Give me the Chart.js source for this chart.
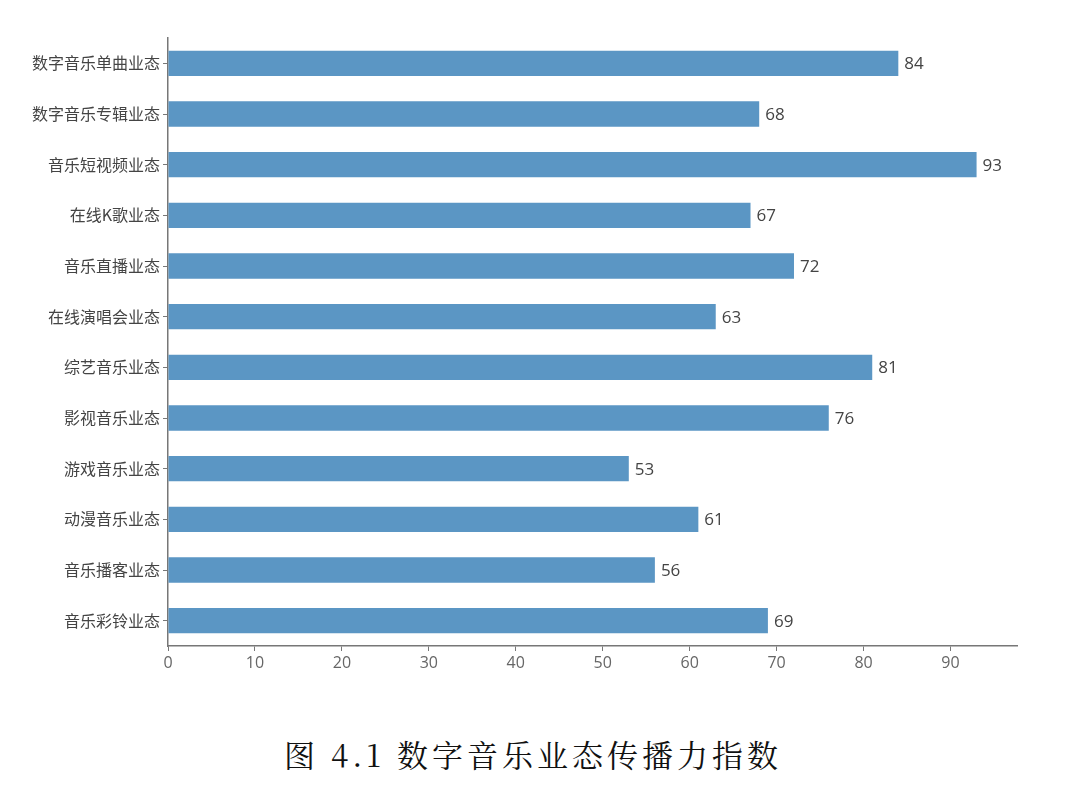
<!DOCTYPE html>
<html>
<head>
<meta charset="utf-8">
<script src="https://cdn.jsdelivr.net/npm/chart.js@4"></script>
<style>
  html, body { margin: 0; padding: 0; background: #fff; }
  #wrap { position: relative; width: 1080px; height: 787px; }
  #box { position: absolute; left: 0; top: 0; width: 1080px; height: 686px; }
  #caption {
    position: absolute; left: 0; top: 731px; width: 1066px;
    text-align: center; font-size: 31px; letter-spacing: 4px; color: #111;
    font-family: "Noto Serif CJK SC", "Noto Sans CJK SC", serif;
  }
</style>
</head>
<body>
<div id="wrap">
  <div id="box"><canvas id="graphCanvas"></canvas></div>
  <div id="caption">图 4.1 数字音乐业态传播力指数</div>
</div>
<script>
/* ---------- DATA ---------- */
const categories = [
  "数字音乐单曲业态", "数字音乐专辑业态", "音乐短视频业态", "在线K歌业态",
  "音乐直播业态", "在线演唱会业态", "综艺音乐业态", "影视音乐业态",
  "游戏音乐业态", "动漫音乐业态", "音乐播客业态", "音乐彩铃业态"
];
const indexValues = [84, 68, 93, 67, 72, 63, 81, 76, 53, 61, 56, 69];
const xTicks = [0, 10, 20, 30, 40, 50, 60, 70, 80, 90];

const FONT = "'Noto Sans CJK SC', 'Noto Sans', sans-serif";
const NUM_FONT = "'Open Sans', 'Noto Sans', sans-serif";

/* ---------- VALUE LABELS ---------- */
const valueLabels = {
  id: "valueLabels",
  afterDatasetsDraw(chart) {
    const ctx = chart.ctx;
    const meta = chart.getDatasetMeta(0);
    ctx.save();
    ctx.font = "17px " + NUM_FONT;
    ctx.fillStyle = "#444";
    ctx.textAlign = "left";
    ctx.textBaseline = "middle";
    meta.data.forEach((bar, i) => {
      ctx.fillText(String(indexValues[i]), bar.x + 6, bar.y + 1);
    });
    ctx.restore();
  }
};

/* ---------- CHART ---------- */
const ctx = document.getElementById("graphCanvas").getContext("2d");
new Chart(ctx, {
  type: "bar",
  data: {
    labels: categories,
    datasets: [{
      data: indexValues,
      backgroundColor: "#5b96c4",
      borderWidth: 0,
      categoryPercentage: 1,
      barPercentage: 0.5
    }]
  },
  plugins: [valueLabels],
  options: {
    indexAxis: "y",
    responsive: true,
    maintainAspectRatio: false,
    animation: false,
    layout: { padding: { top: 38, right: 63, left: 0, bottom: 0 } },
    plugins: {
      legend: { display: false },
      tooltip: { enabled: false }
    },
    scales: {
      x: {
        type: "linear",
        min: 0,
        max: 97.65,
        afterBuildTicks(scale) {
          scale.ticks = xTicks.map(v => ({ value: v }));
        },
        afterFit(scale) { scale.height = 40; },
        grid: { drawOnChartArea: false, drawTicks: true, tickLength: 5, color: "#777" },
        border: { color: "#777", width: 1.5 },
        ticks: { color: "#666", font: { family: NUM_FONT, size: 16 }, padding: 3 }
      },
      y: {
        afterFit(scale) { scale.width = 168; },
        grid: { offset: false, drawOnChartArea: false, drawTicks: true, tickLength: 5, color: "#777" },
        border: { color: "#777", width: 1.5 },
        ticks: { color: "#444", font: { family: FONT, size: 16 }, padding: 3 }
      }
    }
  }
});
</script>
</body>
</html>
